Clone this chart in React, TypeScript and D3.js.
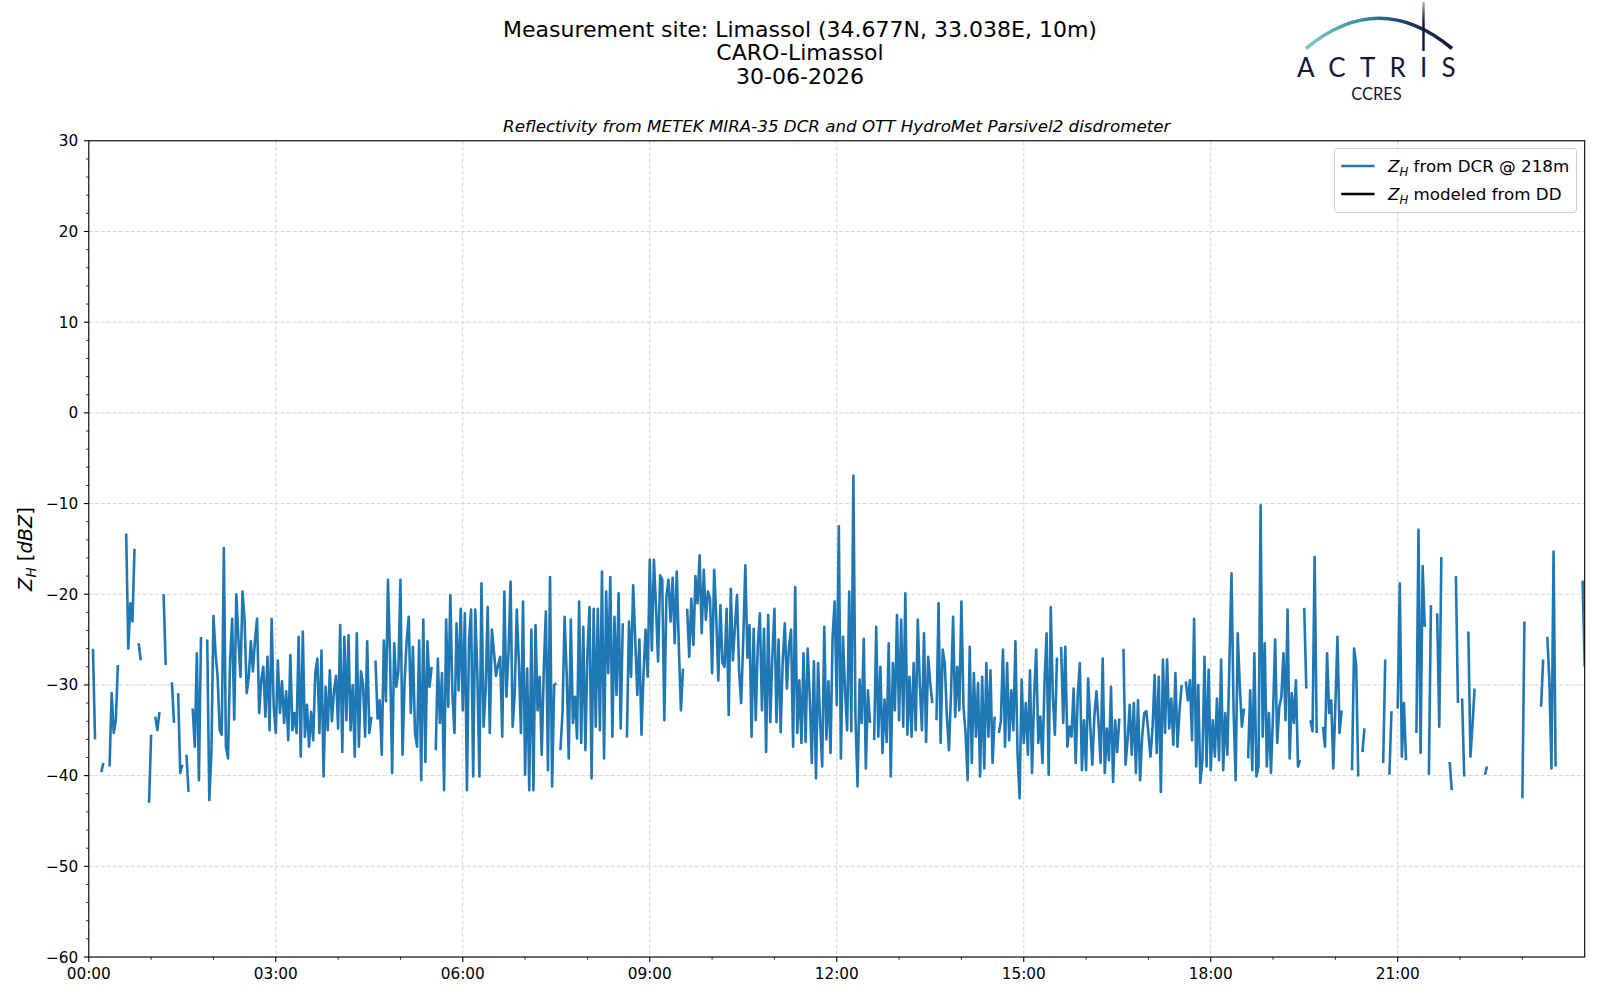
import React from 'react';
import * as d3 from 'd3';

// ---------- text ----------
const titleLines = ['Measurement site: Limassol (34.677N, 33.038E, 10m)', 'CARO-Limassol', '30-06-2026'];
const subtitle = 'Reflectivity from METEK MIRA-35 DCR and OTT HydroMet Parsivel2 disdrometer';
const legendLabels = [' from DCR @ 218m', ' modeled from DD'];

// ---------- axes ----------
const xTickMinutes = [0, 180, 360, 540, 720, 900, 1080, 1260];
const xTickLabels = ['00:00', '03:00', '06:00', '09:00', '12:00', '15:00', '18:00', '21:00'];
const yTicks = [30, 20, 10, 0, -10, -20, -30, -40, -50, -60];
const stepMinutes = 2;

// ---------- data: Z_H from DCR @ 218m, 2-minute steps (null = no data) ----------
const zh0003 = [
  null, null, -26, -36, null, null, -39.6, -38.6, null, null,
  -39, -30.9, -35.3, -33.9, -27.8, null, null, null, -13.3, -26,
  -21, -23, -15, null, -25.4, -27.3, null, null, null, -43,
  -35.5, null, -33.5, -35, -33, null, -20, -27.8, null, null,
  -29.7, -34.2, null, -30.9, -39.7, -38.8, null, -37.7, -41.8, null,
  -32.6, -36.8, -26.5, -40.5, -24.7, null, null, -25, -42.7, -37.5,
  -22.4, -26.5, -29.1, -35, -35.5, -14.9, -36.8, -38.1, -27.4, -22.7,
  -33.8, -20, -24.9, -29.1, -19.7, -23, -30.9, -29.1, -25.2, -28.5,
  -25, -22.7, -33.1, -29.5, -28, -33.5, -26.9, -35, -22.7, -32.4,
];
const zh0306 = [
  -35.3, -27.3, -33.1, -29.6, -34.2, -30.7, -36.1, -26.7, -35, -33.1,
  -35.3, -24.7, -37.9, -24.1, -35.7, -32.2, -36.8, -33, -36.1, -28.7,
  -27.1, -35.3, -26.2, -40.1, -30.2, -35, -28.4, -34, -30.7, -29,
  -34.8, -23.4, -37.4, -24.7, -33.9, -24.5, -35, -30, -37.9, -24.3,
  -36.8, -28.5, -30, -35.7, -25.2, -35.3, -33.5, null, -27.3, -33.7,
  -31.7, -37.7, -25.1, -31.8, -18.4, -27, -39.7, -25.4, -30.2, -28.5,
  -18.4, -37.7, -29.6, -25.1, -22.5, -33.1, -25.8, -35.3, -36.8, -25.1,
  -40.5, -22.8, -38.5, -25.2, -30.2, -28, null, -37.2, -27.1, -34.2,
  -28.7, -41.6, -22.8, -32.4, -20.1, -30.9, -35.3, -23.2, -30.6, -21.6,
];
const zh0609 = [
  -32.8, -22.1, -41.6, -25.1, -21.7, -40.1, -21.7, -28.7, -40.1, -18.8,
  -34.6, -30.6, -21.4, -35.3, -23.9, -26.3, -29, -27.8, -26.9, -35.7,
  -19.7, -31.3, -26.5, -18.6, -34.6, -30.9, -21.7, -27.6, -35.3, -20.8,
  -39.9, -28.2, -41.6, -23.9, -41.6, -23.4, -32.8, -29.1, -37.7, -28.2,
  -21.9, -39.4, -18.1, -41.2, -30, -29.8, null, -37.2, -33.1, -22.5,
  -28.7, -38.1, -22.8, -34.2, -31.3, -35.9, -20.8, -36.4, -23.6, -37.2,
  -26.5, -21.4, -40.3, -21.6, -34.6, -21.6, -35, -17.5, -38.1, -19.7,
  -28.7, -18.1, -35.7, -22.5, -31.1, -19.9, -34.8, -23.2, null, -35.8,
  -23, -29.1, -19, -25, -31.1, -25, -35.5, -28.7, -23.9, -29.1,
];
const zh0912 = [
  -16.2, -26.2, -16.2, -21.4, -27.4, -17.9, -18.4, -33.9, -20.3, -18.4,
  -23, -18.2, -25.4, -17.5, -25.8, -32.8, -28.2, null, -21.6, -26.9,
  -20.5, -25.6, -18, -21, -15.7, -24.3, -17.3, -22.8, -19.7, -20.5,
  -28.7, -17.3, -22.5, -29.5, -21.2, -27.6, -28, -21.6, -33.3, -19.4,
  -27.3, -23.6, -20.1, -28.4, -32, -25, -16.8, -27, -23.4, -35.7,
  -23.8, -33.9, -25.6, -22.1, -32.8, -23.8, -37.4, -22.3, -34.1, -26.9,
  -21.6, -34.1, -25, -35.2, -27.3, -23.2, -30.4, -25.8, -23.9, -36.8,
  -19.2, -35.3, -29.5, -36.4, -26.5, -36.3, -26, -31.3, -38.6, -27.4,
  -40.3, -27.6, -34.2, -39, -23.6, -36, -29.6, -37.5, -24.7, -20.8,
];
const zh1215 = [
  -32.2, -12.5, -38.1, -24.7, -30.6, -35, -19.7, -35.1, -6.9, -33.5,
  -41.2, -29.4, -34.2, -24.9, -39.2, -30.6, -34.2, null, -36.1, -23.6,
  -35.7, -28, -37.5, -31.6, -36.3, -25.4, -40.1, -27.6, -32.8, -22.3,
  -33.9, -22.8, -34.6, -19.9, -35.5, -29.1, -35.7, -27.6, -35, -22.8,
  -30, -35, -24.3, -36.3, -26.9, -29.8, -32, null, -33.9, -21,
  -36.4, -26.1, -27.6, -33.5, -37.2, -30.9, -22.5, -33.5, -28, -32.8,
  -20.8, -32.4, -35.3, -40.5, -25.8, -38.6, -28.7, -35.7, -29.8, -40.1,
  -29.1, -39.2, -27.6, -35.7, -28.4, -38.6, -33.5, null, -35.3, -34,
  -26.1, -36.8, -27.6, -36.1, -30.6, -35, -25.2, -37.5, -42.5, -29.4,
];
const zh1518 = [
  -36.4, -32, -37.7, -28.4, -39.7, -31.3, -26.1, -36.4, -33.5, -38.6,
  -29.8, -24.3, -39.9, -21.4, -31.3, -35.5, -27, null, -25.8, -34.2,
  -25.8, -36.8, -34.6, -35.7, -30.4, -38.6, -31.1, -27.6, -39.4, -33.9,
  -39.4, -29.3, -34.4, -38.8, -33.4, -30.7, -34.2, -38.6, -27.1, -39.7,
  -34.8, -38.3, -30.2, -40.7, -33.9, -37.4, -33.7, null, -26, -38.8,
  -36.1, -32.2, -37.7, -32, -39.7, -31.7, -40.5, -35.7, -33.1, -32.9,
  -35.3, -37.9, -34.8, -28.9, -37.5, -29.1, -41.8, -27.2, -35.3, -27.2,
  -34.8, -31.5, -36.6, -28.7, -36.8, -32.8, -30, null, -29.6, -31.7,
  -29.5, -36.1, -22.7, -39, -30, -40.8, -38.3, -26.9, -39, -28.3,
];
const zh1821 = [
  -39.4, -33.9, -37.9, -31.5, -38.3, -27.2, -39.4, -33.1, -37.7, -27.4,
  -17.7, -32.8, -40.5, -24.3, -30.2, -34.6, -32.6, null, -38.1, -30.6,
  -39.4, -26.5, -40.1, -39, -10.2, -35.7, -25.4, -39, -33.1, -39.7,
  -33.1, -25, -36.4, -32.4, -31.3, -26.5, -33.9, -21.7, -38.1, -30.9,
  -34.2, -29.5, -39, -38.3, null, -21.5, -30.4, null, -33.9, -35.1,
  -15.9, -35.3, null, null, -34.6, -36.8, -26.5, -33.1, -31.7, -39.2,
  -32.2, -24.7, -35.3, -32.8, null, null, null, null, -39.4, -26,
  -27.8, -40.1, null, -37.4, -34.8, null, null, null, null, null,
  null, null, null, -38.6, -27.2, null, -39.9, -32.9, null, null,
];
const zh2124 = [
  -32.6, -18.8, -37.9, -32, -38.3, null, null, null, null, -35.3,
  -12.9, -37.5, -16.9, -23.6, null, -39.9, -21.2, null, null, -22.1,
  -34.6, -15.9, null, null, null, -38.5, -41.6, null, -18, -32,
  null, -31.5, -40.1, null, -24.1, -37.9, -34.4, -30.4, null, null,
  null, null, -39.9, -39, null, null, null, null, null, null,
  null, null, null, null, null, null, null, null, null, null,
  -42.5, -23, null, null, null, null, null, null, null, -32.4,
  -27.2, null, -24.7, -29.5, -39.2, -15.3, -39, null, null, null,
  null, null, null, null, null, null, null, null, null, -18.5,
  -28,
];
// modeled reflectivity from disdrometer: no data on this day
const zhModeled: (number | null)[] = [];

const zhDcr: (number | null)[] = [
  ...zh0003, ...zh0306, ...zh0609, ...zh0912, ...zh1215, ...zh1518, ...zh1821, ...zh2124,
];

// ---------- layout ----------
const W = 1600;
const H = 1000;
const plot = { left: 88.8, right: 1584.7, top: 140.8, bottom: 957 };
const FONT = '"DejaVu Sans", sans-serif';
const BLUE = '#1f77b4';
const NAVY = '#15173a';
const LW = 2.6;

export default function App() {
  const x = d3.scaleLinear().domain([0, 1440]).range([plot.left, plot.right]);
  const y = d3.scaleLinear().domain([-60, 30]).range([plot.bottom, plot.top]);

  const line = d3
    .line<number | null>()
    .defined((d) => d !== null)
    .x((_, i) => x(i * stepMinutes))
    .y((d) => y(d as number));

  const dcrPath = line(zhDcr) || '';
  const ddPath = zhModeled.length ? line(zhModeled) || '' : '';

  const yMinor = d3.range(-60, 31, 2).filter((v) => v % 10 !== 0);
  const xMinor = d3.range(0, 1441, 60).filter((m) => m % 180 !== 0);

  const legendX = 1334.5;
  const legendY = 148.5;
  const legendW = 242;
  const legendH = 64;
  const rowY = [166, 194];

  return (
    <svg
      width={W}
      height={H}
      viewBox={`0 0 ${W} ${H}`}
      style={{ position: 'absolute', left: 0, top: 0, background: '#fff' }}
      fontFamily={FONT}
    >
      <defs>
        <linearGradient id="arcGrad" gradientUnits="userSpaceOnUse" x1={1306} y1={0} x2={1452} y2={0}>
          <stop offset="0%" stopColor="#7ccac6" />
          <stop offset="35%" stopColor="#3f97a3" />
          <stop offset="70%" stopColor="#1d3a5e" />
          <stop offset="100%" stopColor={NAVY} />
        </linearGradient>
        <linearGradient id="mastGrad" gradientUnits="userSpaceOnUse" x1={0} y1={0} x2={0} y2={52}>
          <stop offset="0%" stopColor={NAVY} stopOpacity={0.25} />
          <stop offset="40%" stopColor={NAVY} stopOpacity={1} />
          <stop offset="100%" stopColor={NAVY} stopOpacity={1} />
        </linearGradient>
        <clipPath id="plotClip">
          <rect x={plot.left} y={plot.top} width={plot.right - plot.left} height={plot.bottom - plot.top} />
        </clipPath>
      </defs>

      <rect x={0} y={0} width={W} height={H} fill="#fff" />

      {/* Titles */}
      {titleLines.map((t, i) => (
        <text key={t} x={800} y={36.5 + i * 23.5} textAnchor="middle" fontSize={22} fill="#000">
          {t}
        </text>
      ))}
      <text x={836.7} y={132} textAnchor="middle" fontSize={16.7} fontStyle="italic" fill="#000">
        {subtitle}
      </text>

      {/* Logo */}
      <g>
        <path d="M1306,48.5 Q1379,-12 1452,48.5" fill="none" stroke="url(#arcGrad)" strokeWidth={3.6} />
        <line x1={1423.5} y1={2} x2={1423.5} y2={51} stroke="url(#mastGrad)" strokeWidth={2.4} />
        <text
          x={1297}
          y={77}
          fontFamily='Lato, "Open Sans", sans-serif'
          fontWeight={400}
          fontSize={26}
          letterSpacing={14.2}
          fill={NAVY}
        >
          ACTRIS
        </text>
        <text x={1376.5} y={99.5} textAnchor="middle" fontFamily='Lato, "Open Sans", sans-serif' fontSize={16.5} fill={NAVY}>
          CCRES
        </text>
      </g>

      {/* Grid */}
      <g stroke="#d0d0d0" strokeWidth={0.9} strokeDasharray="4,2">
        {yTicks.map((v) => (
          <line key={`gy${v}`} x1={plot.left} x2={plot.right} y1={y(v)} y2={y(v)} />
        ))}
        {xTickMinutes.map((m) => (
          <line key={`gx${m}`} x1={x(m)} x2={x(m)} y1={plot.top} y2={plot.bottom} />
        ))}
      </g>

      {/* Data */}
      <g clipPath="url(#plotClip)">
        <path d={dcrPath} fill="none" stroke={BLUE} strokeWidth={LW} strokeLinejoin="round" strokeLinecap="butt" />
        {ddPath && <path d={ddPath} fill="none" stroke="#000" strokeWidth={LW} />}
      </g>

      {/* Spines */}
      <rect
        x={plot.left}
        y={plot.top}
        width={plot.right - plot.left}
        height={plot.bottom - plot.top}
        fill="none"
        stroke="#000"
        strokeWidth={1.1}
      />

      {/* Ticks */}
      <g stroke="#000" strokeWidth={1.1}>
        {yTicks.map((v) => (
          <line key={`ty${v}`} x1={plot.left - 4.9} x2={plot.left} y1={y(v)} y2={y(v)} />
        ))}
        {yMinor.map((v) => (
          <line key={`my${v}`} x1={plot.left - 2.8} x2={plot.left} y1={y(v)} y2={y(v)} strokeWidth={0.8} />
        ))}
        {xTickMinutes.map((m) => (
          <line key={`tx${m}`} x1={x(m)} x2={x(m)} y1={plot.bottom} y2={plot.bottom + 4.9} />
        ))}
        {xMinor.map((m) => (
          <line key={`mx${m}`} x1={x(m)} x2={x(m)} y1={plot.bottom} y2={plot.bottom + 2.8} strokeWidth={0.8} />
        ))}
      </g>
      <g fontSize={15.3} fill="#000">
        {yTicks.map((v) => (
          <text key={`ly${v}`} x={plot.left - 10.5} y={y(v)} dy="0.36em" textAnchor="end">
            {v < 0 ? `\u2212${Math.abs(v)}` : `${v}`}
          </text>
        ))}
        {xTickMinutes.map((m, i) => (
          <text key={`lx${m}`} x={x(m)} y={979} textAnchor="middle">
            {xTickLabels[i]}
          </text>
        ))}
      </g>

      {/* Y label */}
      <text transform="translate(32,549) rotate(-90)" textAnchor="middle" fontSize={19.4} fill="#000">
        <tspan fontStyle="italic">Z</tspan>
        <tspan fontStyle="italic" fontSize={13.6} dy={4}>
          H
        </tspan>
        <tspan dy={-4}> [</tspan>
        <tspan fontStyle="italic">dBZ</tspan>
        <tspan>]</tspan>
      </text>

      {/* Legend */}
      <g>
        <rect
          x={legendX}
          y={legendY}
          width={legendW}
          height={legendH}
          rx={3.3}
          fill="#fff"
          fillOpacity={0.8}
          stroke="#cccccc"
          strokeWidth={1}
        />
        {[BLUE, '#000'].map((c, i) => (
          <g key={c}>
            <line x1={legendX + 6.7} x2={legendX + 40.1} y1={rowY[i]} y2={rowY[i]} stroke={c} strokeWidth={LW} />
            <text x={legendX + 53.5} y={rowY[i]} dy="0.36em" fontSize={16.7} fill="#000">
              <tspan fontStyle="italic">Z</tspan>
              <tspan fontStyle="italic" fontSize={11.7} dy={3.5}>
                H
              </tspan>
              <tspan dy={-3.5}>{legendLabels[i]}</tspan>
            </text>
          </g>
        ))}
      </g>
    </svg>
  );
}
